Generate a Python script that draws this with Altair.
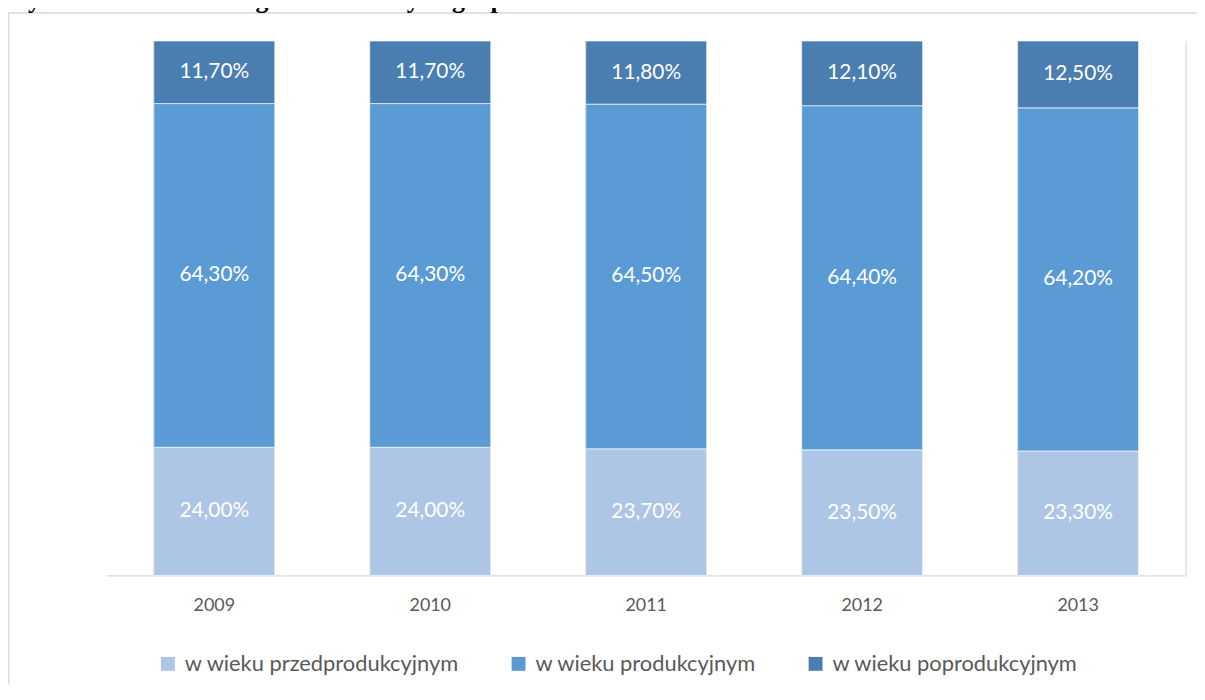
import altair as alt
import pandas as pd

years = ["2009", "2010", "2011", "2012", "2013"]
groups = ["w wieku przedprodukcyjnym", "w wieku produkcyjnym", "w wieku poprodukcyjnym"]
pre_prod = [24.0, 24.0, 23.7, 23.5, 23.3]
prod = [64.3, 64.3, 64.5, 64.4, 64.2]
post_prod = [11.7, 11.7, 11.8, 12.1, 12.5]
colors = ["#adc6e6", "#5b9bd5", "#4a7eb0"]
title_text = "Wykres 2. Struktura wg ekonomicznych grup ludności"

rows = []
for i, y in enumerate(years):
    for k, (g, series) in enumerate(zip(groups, [pre_prod, prod, post_prod])):
        rows.append({"year": y, "group": g, "order": k, "value": series[i]})
df = pd.DataFrame(rows)

W, H = 1087, 538
FONT = "Lato"

x_enc = alt.X("year:O", sort=years, title=None,
              scale=alt.Scale(paddingInner=0.44, paddingOuter=0.22),
              axis=alt.Axis(grid=True, gridColor="#d9d9d9", gridWidth=1.2, bandPosition=0,
                            domainColor="#d9d9d9", domainWidth=1.2, ticks=False,
                            labelAngle=0, labelPadding=21, labelFontSize=18,
                            labelFont=FONT, labelColor="#595959"))

base = alt.Chart(df)

bars = base.mark_bar(stroke="white", strokeWidth=0.6).encode(
    x=x_enc,
    y=alt.Y("value:Q", stack="zero", axis=None,
            scale=alt.Scale(domain=[0, 100], nice=False)),
    color=alt.Color("group:N", sort=groups, title=None,
                    scale=alt.Scale(domain=groups, range=colors)),
    order=alt.Order("order:Q", sort="ascending"),
)

labels = base.transform_stack(
    stack="value", groupby=["year"], sort=[alt.SortField("order", "ascending")], as_=["y0", "y1"]
).transform_calculate(
    mid="(datum.y0 + datum.y1) / 2",
    label="replace(format(datum.value, '.2f'), '.', ',') + '%'",
).mark_text(color="white", fontSize=21, font=FONT).encode(
    x=alt.X("year:O", sort=years),
    y=alt.Y("mid:Q", scale=alt.Scale(domain=[0, 100], nice=False)),
    text="label:N",
)

one = alt.Chart(pd.DataFrame({"t": [title_text]}))
frame = one.mark_rect(fill=None, stroke="#d9d9d9", strokeWidth=1.5).encode(
    x=alt.value(-98.5), y=alt.value(-28.3), x2=alt.value(W + 200), y2=alt.value(H + 300))
right_rule = one.mark_rule(color="#d9d9d9", strokeWidth=1.2).encode(
    x=alt.value(W), y=alt.value(0), y2=alt.value(H))
title = one.mark_text(align="left", baseline="alphabetic", font="Liberation Serif",
                      fontWeight="bold", fontSize=26, color="black").encode(
    x=alt.value(-104), y=alt.value(-33), text="t:N")

chart = alt.layer(frame, right_rule, bars, labels, title).properties(
    width=W, height=H,
    autosize=alt.AutoSizeParams(type="none"),
    padding={"left": 99, "top": 31, "right": 11, "bottom": 107},
).configure_view(stroke=None).configure_legend(
    orient="none", legendX=51, legendY=616, direction="horizontal",
    symbolType="square", symbolSize=196, symbolStrokeWidth=0,
    labelFontSize=22, labelFont=FONT, labelColor="#595959", labelLimit=0,
    columnPadding=48, labelOffset=6,
)

chart.save("out.html", embed_options={"renderer": "svg", "actions": False})
